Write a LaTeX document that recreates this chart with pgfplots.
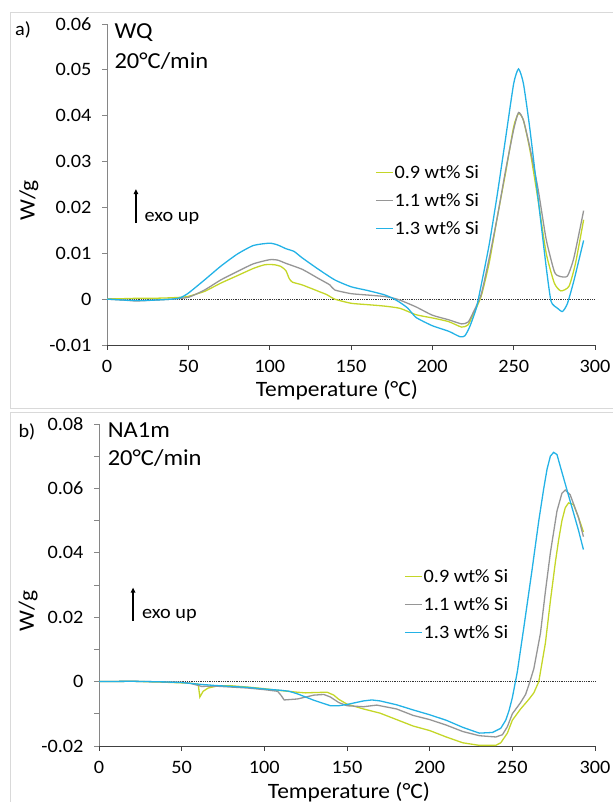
\documentclass[border=0pt]{standalone}
\usepackage{fontspec}
\setmainfont{Carlito}[FakeStretch=1.07]
\usepackage{pgfplots}
\pgfplotsset{compat=1.18}
\usetikzlibrary{arrows.meta}
\definecolor{cyel}{RGB}{196,214,40}
\definecolor{cgray}{RGB}{150,150,150}
\definecolor{cblue}{RGB}{35,178,230}
\definecolor{frame}{RGB}{217,217,217}
\definecolor{yax}{RGB}{134,134,134}
\definecolor{xax}{RGB}{64,64,64}
\pgfplotsset{
  dscstyle/.style={
    scale only axis,
    xmin=0, xmax=300,
    scaled ticks=false,
    axis x line*=bottom, axis y line*=left,
    axis line style={-},
    x axis line style={xax, line width=0.9bp},
    y axis line style={yax, line width=0.9bp},
    tick align=outside,
    major tick length=5bp, minor tick length=5bp,
    xtick={0,50,100,150,200,250,300},
    xticklabels={0,50,100,150,200,250,300},
    xtick style={xax, line width=0.9bp},
    ytick style={yax, line width=0.9bp},
    ticklabel style={font=\fontsize{19}{20}\selectfont, text=black},
    xticklabel style={yshift=-7bp},
    yticklabel style={xshift=-7bp},
    label style={font=\fontsize{22}{23}\selectfont, text=black},
    clip=false,
    legend cell align=left,
    legend image code/.code={\draw[#1, line width=1.4bp] (0bp,0bp) -- (17bp,0bp);},
    legend style={draw=none, fill=none, font=\fontsize{19}{20}\selectfont, text=black,
      row sep=11.5bp, inner sep=0bp, nodes={inner sep=1bp}},
  },
  ser/.style={line width=1.3bp, smooth, tension=0.35, no marks},
}
\begin{document}
\begin{tikzpicture}[x=1bp,y=1bp]
\useasboundingbox (0,0) rectangle (613,802);
\draw[frame, line width=0.9bp] (10,394) -- (10,790) -- (614,790);
\draw[frame, line width=0.9bp] (10,394) -- (614,394);
\draw[frame, line width=0.9bp] (10,-2) -- (10,390) -- (614,390);
\node[font=\fontsize{19}{20}\selectfont, text=black] at (23,772) {a)};
\node[font=\fontsize{19}{20}\selectfont, text=black] at (27,370) {b)};

% ---------- panel a ----------
\begin{axis}[dscstyle,
  at={(107bp,457bp)}, anchor=south west, width=488bp, height=321bp,
  ymin=-0.01, ymax=0.06,
  ytick={-0.01,0,0.01,0.02,0.03,0.04,0.05,0.06},
  yticklabels={-0.01,0,0.01,0.02,0.03,0.04,0.05,0.06},
  xlabel={Temperature (°C)}, ylabel={W/g},
  xlabel style={at={(axis description cs:0.471,-0.140)}, anchor=center},
  ylabel style={at={(axis description cs:-0.160,0.45)}, anchor=center, rotate=0},
  legend style={at={(axis description cs:0.549,0.563)}, anchor=north west},
]
\addplot[black!80, densely dotted, line width=0.8bp, forget plot] coordinates {(0,0) (300,0)};
\addplot[ser, cyel] coordinates {
(0,0.0001)(10,0.0001)(20,0.0002)(30,0.0002)(40,0.0003)(45,0.0004)(50,0.0006)(60,0.0017)(70,0.0035)(80,0.0051)(90,0.0067)(97,0.0075)(103,0.0075)(107,0.0071)(110,0.0062)(112,0.0045)(114,0.0037)(120,0.0031)(130,0.0017)(135,0.0010)(140,0.0)(150,-0.0009)(160,-0.0012)(170,-0.0015)(180,-0.0020)(190,-0.0034)(200,-0.0041)(210,-0.0049)(218,-0.0061)(222,-0.0056)(225,-0.0034)(230,0.0006)(235,0.008)(240,0.018)(245,0.0275)(250,0.0376)(253,0.0405)(256,0.039)(260,0.0325)(265,0.0216)(270,0.0100)(275,0.0035)(279,0.0018)(284,0.0028)(288,0.0078)(293,0.0173)};
\addlegendentry{0.9 wt\% Si}
\addplot[ser, cgray] coordinates {
(0,0)(10,-0.0002)(18,-0.0004)(30,-0.0002)(40,0.0)(50,0.0004)(60,0.0020)(70,0.0042)(80,0.0060)(90,0.0077)(100,0.0086)(105,0.0085)(110,0.0078)(120,0.0065)(130,0.0045)(137,0.0031)(140,0.0020)(150,0.0012)(160,0.0009)(170,0.0006)(175,0.0003)(180,-0.0002)(190,-0.0017)(200,-0.0035)(210,-0.0045)(218,-0.0054)(222,-0.0050)(225,-0.0030)(230,0.0010)(235,0.009)(240,0.0180)(245,0.0280)(250,0.0370)(253,0.0407)(256,0.0390)(260,0.0330)(265,0.0240)(270,0.0130)(275,0.0060)(278,0.0050)(283,0.0050)(287,0.0090)(293,0.0193)};
\addlegendentry{1.1 wt\% Si}
\addplot[ser, cblue] coordinates {
(0,0)(10,-0.0002)(20,-0.0003)(30,-0.0002)(40,0.0)(45,0.0003)(50,0.0013)(60,0.0042)(70,0.0072)(80,0.0098)(90,0.0117)(100,0.0122)(105,0.0118)(110,0.0110)(115,0.0104)(120,0.0090)(130,0.0065)(140,0.0042)(150,0.0027)(160,0.0019)(170,0.0010)(175,0.0003)(180,-0.0007)(185,-0.0020)(190,-0.0040)(200,-0.0058)(210,-0.0070)(217,-0.0082)(220,-0.0080)(223,-0.0060)(227,-0.0020)(230,0.0030)(235,0.012)(240,0.0230)(245,0.0350)(250,0.0470)(253,0.0502)(256,0.0470)(260,0.0370)(265,0.0220)(270,0.0070)(273,-0.0005)(277,-0.0020)(280,-0.0027)(283,-0.0010)(287,0.0040)(293,0.0128)};
\addlegendentry{1.3 wt\% Si}
\draw[black, line width=1.2bp, -{Triangle[length=5bp,width=4.5bp]}] (axis cs:17.8,0.0166) -- (axis cs:17.8,0.0240);
\node[anchor=west, font=\fontsize{19}{20}\selectfont, text=black, inner sep=0pt] at (axis cs:23,0.0176) {exo up};
\node[anchor=west, font=\fontsize{23}{24}\selectfont, text=black, inner sep=0pt] at (axis cs:4.5,0.0582) {WQ};
\node[anchor=west, font=\fontsize{23}{24}\selectfont, text=black, inner sep=0pt] at (axis cs:4.5,0.0520) {20°C/min};
\end{axis}

% ---------- panel b ----------
\begin{axis}[dscstyle,
  at={(99bp,56bp)}, anchor=south west, width=496bp, height=322bp,
  ymin=-0.02, ymax=0.08,
  ytick={-0.02,0,0.02,0.04,0.06,0.08},
  yticklabels={-0.02,0,0.02,0.04,0.06,0.08},
  minor ytick={-0.01,0.01,0.03,0.05,0.07},
  xlabel={Temperature (°C)}, ylabel={W/g},
  xlabel style={at={(axis description cs:0.504,-0.143)}, anchor=center},
  ylabel style={at={(axis description cs:-0.143,0.42)}, anchor=center, rotate=0},
  legend style={at={(axis description cs:0.615,0.553)}, anchor=north west},
]
\addplot[black!80, densely dotted, line width=0.8bp, forget plot] coordinates {(0,0) (300,0)};
\addplot[line width=1.3bp, cyel, no marks] coordinates {
(0,0)(20,0.0001)(40,-0.0002)(55,-0.0005)(60,-0.0008)(61,-0.0048)(63,-0.0030)(66,-0.0020)(72,-0.0013)(80,-0.0013)(90,-0.0017)(100,-0.0022)(110,-0.0028)(120,-0.0033)(125,-0.0035)(130,-0.0034)(138,-0.0033)(142,-0.0042)(145,-0.0055)(150,-0.0070)(160,-0.0085)(170,-0.0098)(180,-0.0118)(190,-0.0138)(200,-0.0152)(210,-0.0172)(220,-0.0190)(230,-0.0198)(240,-0.0198)(243,-0.0190)(245,-0.0175)(247,-0.0160)(250,-0.0120)(255,-0.0085)(260,-0.0055)(263,-0.0035)(266,0.0)(268,0.006)(270,0.0120)(273,0.0250)(276,0.0370)(278,0.0440)(280,0.0500)(282,0.0540)(284,0.0555)(287,0.0550)(290,0.0510)(293,0.0465)};
\addlegendentry{0.9 wt\% Si}
\addplot[line width=1.3bp, cgray, no marks] coordinates {
(0,0)(20,0.0001)(40,-0.0001)(50,-0.0002)(55,-0.0005)(60,-0.0012)(62,-0.0015)(70,-0.0014)(80,-0.0017)(90,-0.0020)(100,-0.0025)(108,-0.0030)(110,-0.0042)(112,-0.0057)(120,-0.0054)(125,-0.0048)(130,-0.0042)(136,-0.0040)(140,-0.0048)(145,-0.0065)(150,-0.0075)(160,-0.0078)(168,-0.0073)(180,-0.0085)(190,-0.0105)(200,-0.0118)(210,-0.0135)(220,-0.0155)(230,-0.0168)(240,-0.0172)(244,-0.0165)(247,-0.0140)(250,-0.0100)(255,-0.0065)(258,-0.0040)(260,-0.0010)(263,0.0040)(267,0.0150)(270,0.0280)(273,0.0400)(277,0.0530)(280,0.0585)(282,0.0595)(285,0.0580)(290,0.0510)(293,0.0450)};
\addlegendentry{1.1 wt\% Si}
\addplot[line width=1.3bp, cblue, no marks] coordinates {
(0,0)(20,0.0001)(40,-0.0001)(50,-0.0003)(60,-0.0008)(70,-0.0012)(80,-0.0015)(90,-0.0018)(100,-0.0023)(110,-0.0027)(115,-0.0030)(120,-0.0038)(130,-0.0058)(140,-0.0075)(145,-0.0075)(150,-0.0071)(160,-0.0060)(165,-0.0057)(170,-0.0060)(180,-0.0072)(190,-0.0088)(200,-0.0103)(210,-0.0120)(220,-0.0142)(230,-0.0160)(238,-0.0158)(243,-0.0145)(246,-0.0120)(248,-0.0090)(250,-0.0050)(253,0.0030)(257,0.0170)(262,0.0350)(266,0.0500)(269,0.0600)(271,0.0660)(273,0.0700)(275,0.0712)(277,0.0705)(280,0.0650)(285,0.0560)(290,0.0470)(293,0.0410)};
\addlegendentry{1.3 wt\% Si}
\draw[black, line width=1.2bp, -{Triangle[length=5bp,width=4.5bp]}] (axis cs:20.6,0.0189) -- (axis cs:20.6,0.0292);
\node[anchor=west, font=\fontsize{19}{20}\selectfont, text=black, inner sep=0pt] at (axis cs:26,0.0207) {exo up};
\node[anchor=west, font=\fontsize{23}{24}\selectfont, text=black, inner sep=0pt] at (axis cs:5.2,0.0780) {NA1m};
\node[anchor=west, font=\fontsize{23}{24}\selectfont, text=black, inner sep=0pt] at (axis cs:5.2,0.0693) {20°C/min};
\end{axis}
\end{tikzpicture}
\end{document}
